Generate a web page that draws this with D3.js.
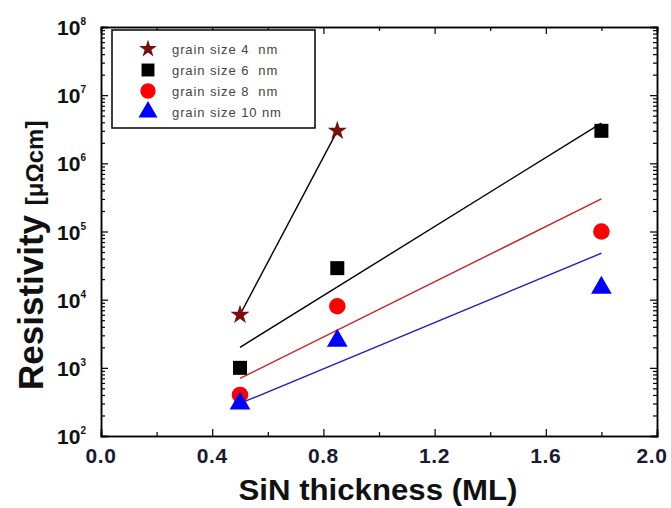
<!DOCTYPE html>
<html lang="en">
<head>
<meta charset="UTF-8" />
<script src="https://d3js.org/d3.v7.min.js"></script>
<style>
  body { margin: 0; background: #fff; }
  text { font-family: Arial, "Liberation Sans", sans-serif; }
</style>
</head>
<body>
<svg width="671" height="508"></svg>
<script>
// ---- data ----
var names = ["grain size 4  nm", "grain size 6  nm", "grain size 8  nm", "grain size 10 nm"];
var xs = [0.5, 0.85, 1.8];
var star4 = [6e3, 3e6];            // only two points (0.5, 0.85)
var sq6 = [1e3, 2.9e4, 3e6];
var circ8 = [400, 8e3, 1e5];
var tri10 = [300, 2.5e3, 1.5e4];
// fit line end values at x = 0.5 and 1.8
var fitX = [0.5, 1.8];
var fit6 = [2e3, 3.9e6];
var fit8 = [700, 3e5];
var fit10 = [300, 4.8e4];
var xTicks = [0.0, 0.4, 0.8, 1.2, 1.6, 2.0];
var yExp = [2, 3, 4, 5, 6, 7, 8];

var svg = d3.select("svg");
var L = 101, R = 657, T = 27, B = 436;
var x = d3.scaleLinear().domain([0, 2]).range([L, R]);
var y = d3.scaleLog().domain([1e2, 1e8]).range([B, T]);

var majors = yExp.map(function(e) { return Math.pow(10, e); });
var minors = [];
for (var e = 2; e < 8; e++) for (var k = 2; k <= 9; k++) minors.push(k * Math.pow(10, e));
var xMinor = [0.2, 0.6, 1.0, 1.4, 1.8];

function styleAxis(g) {
  g.select(".domain").attr("stroke", "#000").attr("stroke-width", 1.5);
  g.selectAll(".tick line").attr("stroke", "#000").attr("stroke-width", 1.2);
}

// axes: ticks pointing inward
svg.append("g").attr("transform", "translate(0," + B + ")")
  .call(d3.axisBottom(x).tickValues(xTicks).tickSize(-7).tickFormat("")).call(styleAxis);
svg.append("g").attr("transform", "translate(0," + B + ")")
  .call(d3.axisBottom(x).tickValues(xMinor).tickSize(-4).tickFormat("")).call(styleAxis);
svg.append("g").attr("transform", "translate(0," + T + ")")
  .call(d3.axisTop(x).tickValues(xTicks).tickSize(-7).tickFormat("")).call(styleAxis);
svg.append("g").attr("transform", "translate(0," + T + ")")
  .call(d3.axisTop(x).tickValues(xMinor).tickSize(-4).tickFormat("")).call(styleAxis);
svg.append("g").attr("transform", "translate(" + L + ",0)")
  .call(d3.axisLeft(y).tickValues(majors).tickSize(-7).tickFormat("")).call(styleAxis);
svg.append("g").attr("transform", "translate(" + L + ",0)")
  .call(d3.axisLeft(y).tickValues(minors).tickSize(-4).tickFormat("")).call(styleAxis);
svg.append("g").attr("transform", "translate(" + R + ",0)")
  .call(d3.axisRight(y).tickValues(majors).tickSize(-7).tickFormat("")).call(styleAxis);
svg.append("g").attr("transform", "translate(" + R + ",0)")
  .call(d3.axisRight(y).tickValues(minors).tickSize(-4).tickFormat("")).call(styleAxis);

// tick labels
svg.selectAll(".xl").data(xTicks).enter().append("text")
  .attr("x", function(d) { return Math.min(x(d), 652); }).attr("y", B + 27)
  .attr("text-anchor", "middle").attr("font-size", 21).attr("font-weight", "bold")
  .attr("letter-spacing", 0.6).attr("fill", "#1a1a33").text(function(d) { return d.toFixed(1); });

var yl = svg.selectAll(".yl").data(yExp).enter().append("text")
  .attr("x", 86).attr("y", function(d) { return y(Math.pow(10, d)) + 8; })
  .attr("text-anchor", "end").attr("font-size", 21).attr("font-weight", "bold").attr("fill", "#111");
yl.append("tspan").text("10");
yl.append("tspan").attr("dy", -10).attr("font-size", 10).text(function(d) { return d; });

// axis titles
svg.append("text").attr("x", 378).attr("y", 500).attr("text-anchor", "middle")
  .attr("font-size", 29).attr("font-weight", "bold").attr("fill", "#111")
  .attr("textLength", 279).attr("lengthAdjust", "spacingAndGlyphs").text("SiN thickness (ML)");
var yt = svg.append("text").attr("transform", "translate(43,390) rotate(-90)")
  .attr("font-weight", "bold").attr("fill", "#111");
yt.append("tspan").attr("font-size", 35).text("Resistivity ");
yt.append("tspan").attr("font-size", 24).text("[μΩcm]");

// lines
var line = d3.line().x(function(d) { return x(d[0]); }).y(function(d) { return y(d[1]); });
function pairs(xv, yv) { return yv.map(function(v, i) { return [xv[i], v]; }); }
var lineData = [[pairs(xs, star4), "#000"], [pairs(fitX, fit6), "#000"],
  [pairs(fitX, fit8), "#cc2222"], [pairs(fitX, fit10), "#2020c0"]];
svg.selectAll(".fit").data(lineData).enter().append("path")
  .attr("d", function(d) { return line(d[0]); }).attr("fill", "none")
  .attr("stroke", function(d) { return d[1]; }).attr("stroke-width", 1.4);

// markers
var shapes = [[d3.symbolStar, 115, "#7a0e0e"], [d3.symbolSquare, 196, "#000"],
  [d3.symbolCircle, 215, "#ff0000"], [d3.symbolTriangle, 185, "#0000ff"]];
var series = [star4, sq6, circ8, tri10];
series.forEach(function(s, i) {
  var sym = d3.symbol().type(shapes[i][0]).size(shapes[i][1]);
  svg.selectAll(".m" + i).data(pairs(xs, s)).enter().append("path")
    .attr("transform", function(d) { return "translate(" + x(d[0]) + "," + y(d[1]) + ")"; })
    .attr("d", sym).attr("fill", shapes[i][2]);
});

// legend
var lg = svg.append("g");
lg.append("rect").attr("x", 112).attr("y", 30).attr("width", 203).attr("height", 98)
  .attr("fill", "#fff").attr("stroke", "#000").attr("stroke-width", 1.5);
var rowY = [49, 70, 91, 112];
names.forEach(function(n, i) {
  var sym = d3.symbol().type(shapes[i][0]).size(shapes[i][1] * 0.85);
  lg.append("path").attr("transform", "translate(148," + rowY[i] + ")").attr("d", sym).attr("fill", shapes[i][2]);
  lg.append("text").attr("x", 172).attr("y", rowY[i] + 5).attr("font-size", 13)
    .attr("fill", "#444").attr("letter-spacing", 0.9).attr("xml:space", "preserve").text(n);
});
</script>
</body>
</html>
